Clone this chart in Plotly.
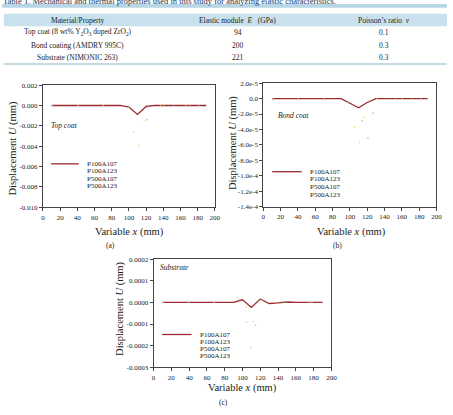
import plotly.graph_objects as go

W, H = 453, 415

# ---------------- data ----------------
table_caption = "Table 1. Mechanical and thermal properties used in this study for analyzing elastic characteristics."
table_headers = ["Material/Property", "Elastic module\u00a0\u00a0<i>E</i>\u00a0\u00a0\u00a0(GPa)", "Poisson\u2019s ratio\u00a0\u00a0<i>\u03bd</i>"]
materials = ["Top coat (8 wt% Y<sub>2</sub>O<sub>3</sub> doped ZrO<sub>2</sub>)",
             "Bond coating (AMDRY 995C)",
             "Substrate (NIMONIC 263)"]
elastic_modulus = ["94", "200", "221"]
poisson_ratio = ["0.1", "0.3", "0.3"]

series_names = ["P100A107", "P100A123", "P500A107", "P500A123"]
x_mm = [10, 20, 30, 40, 50, 60, 70, 80, 90, 100, 110, 120, 130, 140, 150, 160, 170, 180, 190]

# (a) Top coat
a_P100A107 = [0, 0, 0, 0, 0, 0, 0, 0, 0, -0.00015, -0.00088, -0.0001, 0, 0, 0, 0, 0, 0, 0]
a_P100A123 = [0, 0, 0, 0, 0, 0, 0, 0, 0, -0.0002, -0.0045, -0.0006, 0, 0, 0, 0, 0, 0, 0]
a_P500A107 = [0, 0, 0, 0, 0, 0, 0, 0, 0, -0.0001, -0.0008, -0.0016, 0, 0, 0, 0, 0, 0, 0]
a_P500A123 = [0, 0, 0, 0, 0, 0, 0, 0, 0, -0.0001, -0.0009, -0.0002, 0, 0, 0, 0, 0, 0, 0]

# (b) Bond coat
b_P100A107 = [0, 0, 0, 0, 0, 0, 0, 0, 0, -6e-6, -1.2e-5, -5e-6, 0, 0, 0, 0, 0, 0, 0]
b_P100A123 = [0, 0, 0, 0, 0, 0, 0, 0, 0, -8e-6, -6.3e-5, -5e-6, 0, 0, 0, 0, 0, 0, 0]
b_P500A107 = [0, 0, 0, 0, 0, 0, 0, 0, 0, -5e-6, -1.1e-5, -5.6e-5, 0, 0, 0, 0, 0, 0, 0]
b_P500A123 = [0, 0, 0, 0, 0, 0, 0, 0, 0, -6e-6, -1.2e-5, -4e-6, 0, 0, 0, 0, 0, 0, 0]

# (c) Substrate
c_P100A107 = [0, 0, 0, 0, 0, 0, 0, 0, 0, 1.2e-5, -2.3e-5, 1.6e-5, -5e-6, -2e-6, 2e-6, 0, 0, 0, 0]
c_P100A123 = [0, 0, 0, 0, 0, 0, 0, 0, 0, 5.5e-5, -1.12e-4, 1.5e-5, -5e-6, 0, 3e-6, 0, 0, 0, 0]
c_P500A107 = [0, 0, 0, 0, 0, 0, 0, 0, 1.6e-5, 1.0e-5, -2.5e-5, 1.5e-5, -6e-6, -2e-6, 3e-6, 0, 0, 0, 0]
c_P500A123 = [0, 0, 0, 0, 0, 0, 0, 0, 0, 1.0e-5, -2.15e-4, 1.4e-5, -4e-6, -2e-6, 2e-6, 0, 0, 0, 0]

x_ticks = [0, 20, 40, 60, 80, 100, 120, 140, 160, 180, 200]
a_yticks = [0.002, 0.0, -0.002, -0.004, -0.006, -0.008, -0.010]
a_ytext = ["0.002", "0.000", "-0.002", "-0.004", "-0.006", "-0.008", "-0.010"]
b_yticks = [2e-5, 0.0, -2e-5, -4e-5, -6e-5, -8e-5, -1e-4, -1.2e-4, -1.4e-4]
b_ytext = ["2.0e-5", "0.0", "-2.0e-5", "-4.0e-5", "-6.0e-5", "-8.0e-5", "-1.0e-4", "-1.2e-4", "-1.4e-4"]
c_yticks = [0.0002, 0.0001, 0.0, -0.0001, -0.0002, -0.0003]
c_ytext = ["0.0002", "0.0001", "0.0000", "-0.0001", "-0.0002", "-0.0003"]

panel_labels = ["Top coat", "Bond coat", "Substrate"]
sub_captions = ["(a)", "(b)", "(c)"]

# ---------------- helpers ----------------
def px(p):
    return p / W

def py(p):
    return 1 - p / H

FONT = "Liberation Serif, Times New Roman, serif"
TXT = "#222222"
RED = "#9a2a2e"
faint_colors = ["#d8d040", "#5cb85c", "#a8a8b8"]

panels = [
    dict(xd=(41.7, 216.7), yd=(82.7, 207.3), yr=(-0.010, 0.002), tv=a_yticks, tt=a_ytext,
         data=[a_P100A107, a_P100A123, a_P500A107, a_P500A123],
         label_pos=(48, 123.5), leg=(50, 78, 84, [163, 170.5, 178, 185.5]),
         ytitle=(11.5, 147), xtitle=(129.5, 232.5), cap=(110, 246.5)),
    dict(xd=(266, 442.3), yd=(80.7, 206.7), yr=(-1.4e-4, 2e-5), tv=b_yticks, tt=b_ytext,
         data=[b_P100A107, b_P100A123, b_P500A107, b_P500A123],
         label_pos=(279, 114), leg=(275, 305, 311.5, [171, 178.7, 186.5, 194.3]),
         ytitle=(235, 142), xtitle=(355.5, 232.5), cap=(341.5, 246.5)),
    dict(xd=(154.3, 335.3), yd=(260.3, 370.3), yr=(-0.0003, 0.0002), tv=c_yticks, tt=c_ytext,
         data=[c_P100A107, c_P100A123, c_P500A107, c_P500A123],
         label_pos=(159, 269), leg=(163, 193, 199.5, [337, 344.4, 351.7, 359]),
         ytitle=(120, 311), xtitle=(245, 391.5), cap=(225.5, 406)),
]

fig = go.Figure()
shapes = []
annotations = []

for i, p in enumerate(panels):
    n = "" if i == 0 else str(i + 1)
    xa, ya = "x" + n, "y" + n
    fig.add_trace(go.Scatter(x=x_mm, y=p["data"][0], mode="lines", name=series_names[0],
                             line=dict(color=RED, width=1.3), xaxis=xa, yaxis=ya, showlegend=False))
    for k in range(1, 4):
        fig.add_trace(go.Scatter(x=x_mm, y=p["data"][k], mode="lines", name=series_names[k],
                                 line=dict(color=faint_colors[k - 1], width=1.1, dash="1.5px,24px"),
                                 opacity=0.7, xaxis=xa, yaxis=ya, showlegend=False))
    axis_common = dict(showline=True, linecolor="#444444", linewidth=1, mirror=True,
                       ticks="outside", ticklen=3, tickcolor="#444444", tickwidth=1,
                       showgrid=False, zeroline=False,
                       tickfont=dict(family=FONT, size=7, color=TXT))
    fig.layout["xaxis" + n] = dict(domain=[px(p["xd"][0]), px(p["xd"][1])], range=[0, 200],
                                   tickvals=x_ticks, anchor=ya, **axis_common)
    fig.layout["yaxis" + n] = dict(domain=[py(p["yd"][1]), py(p["yd"][0])], range=list(p["yr"]),
                                   tickvals=p["tv"], ticktext=p["tt"], anchor=xa, **axis_common)
    annotations.append(dict(x=px(p["label_pos"][0]), y=py(p["label_pos"][1]), xref="paper", yref="paper",
                            text="<i>" + panel_labels[i] + "</i>", showarrow=False, xanchor="left",
                            yanchor="middle", font=dict(family=FONT, size=7.5, color=TXT)))
    lx0, lx1, tx, rows = p["leg"]
    shapes.append(dict(type="line", xref="paper", yref="paper", x0=px(lx0), x1=px(lx1),
                       y0=py(rows[0]), y1=py(rows[0]), line=dict(color=RED, width=1.3)))
    for k, nm in enumerate(series_names):
        annotations.append(dict(x=px(tx), y=py(rows[k]), xref="paper", yref="paper", text=nm,
                                showarrow=False, xanchor="left", yanchor="middle",
                                font=dict(family=FONT, size=7, color=TXT)))
    annotations.append(dict(x=px(p["ytitle"][0]), y=py(p["ytitle"][1]), xref="paper", yref="paper",
                            text="Displacement <i>U</i> (mm)", textangle=-90, showarrow=False,
                            xanchor="center", yanchor="middle", font=dict(family=FONT, size=10.5, color=TXT)))
    annotations.append(dict(x=px(p["xtitle"][0]), y=py(p["xtitle"][1]), xref="paper", yref="paper",
                            text="Variable <i>x</i> (mm)", showarrow=False,
                            xanchor="center", yanchor="middle", font=dict(family=FONT, size=10.5, color=TXT)))
    annotations.append(dict(x=px(p["cap"][0]), y=py(p["cap"][1]), xref="paper", yref="paper",
                            text=sub_captions[i], showarrow=False,
                            xanchor="center", yanchor="middle", font=dict(family=FONT, size=7.5, color=TXT)))

# ---------------- table ----------------
shapes.append(dict(type="rect", xref="paper", yref="paper", x0=0, x1=1, y0=py(3.8), y1=1,
                   fillcolor="#b7d6e6", line=dict(width=0), layer="below"))
annotations.append(dict(x=px(-1), y=py(-3.2), xref="paper", yref="paper", text=table_caption,
                        showarrow=False, xanchor="left", yanchor="middle",
                        font=dict(family=FONT, size=8.5, color="#1d3557")))
shapes.append(dict(type="rect", xref="paper", yref="paper", x0=px(1.8), x1=1, y0=py(22.8), y1=py(10),
                   fillcolor="#c8e1ed", line=dict(width=0), layer="below"))
shapes.append(dict(type="line", xref="paper", yref="paper", x0=px(1.8), x1=1, y0=py(61.2), y1=py(61.2),
                   line=dict(color="#8fb4c8", width=1.2)))
col_x = [77, 240, 389]
for j, h in enumerate(table_headers):
    annotations.append(dict(x=px(col_x[j]), y=py(16.5), xref="paper", yref="paper", text=h,
                            showarrow=False, xanchor="center", yanchor="middle",
                            font=dict(family=FONT, size=7.5, color=TXT)))
row_y = [29, 42, 55]
for r in range(3):
    for j, val in enumerate([materials[r], elastic_modulus[r], poisson_ratio[r]]):
        annotations.append(dict(x=px(col_x[j]), y=py(row_y[r]), xref="paper", yref="paper", text=val,
                                showarrow=False, xanchor="center", yanchor="middle",
                                font=dict(family=FONT, size=7.5, color=TXT)))

fig.update_layout(width=W, height=H, margin=dict(l=0, r=0, t=0, b=0, pad=0),
                  paper_bgcolor="white", plot_bgcolor="white", showlegend=False,
                  shapes=shapes, annotations=annotations)

fig.write_html("out.html")
